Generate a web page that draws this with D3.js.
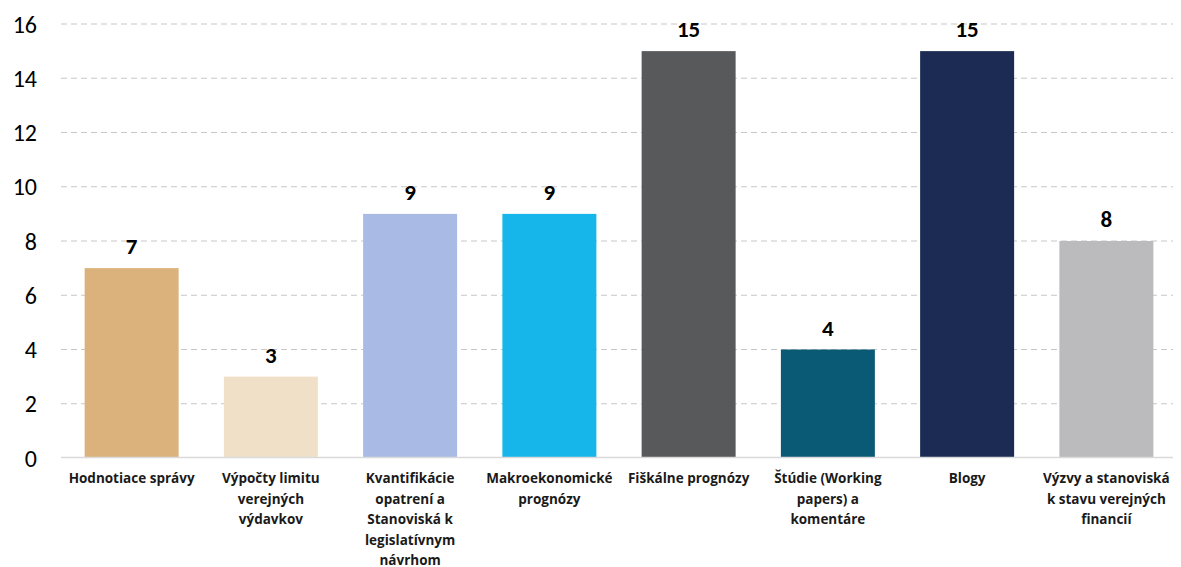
<!DOCTYPE html>
<html>
<head>
<meta charset="utf-8">
<script src="https://cdn.jsdelivr.net/npm/d3@7"></script>
<style>
body { margin: 0; background: #fff; }
text { font-family: Carlito, Lato, "Open Sans", sans-serif; }
</style>
</head>
<body>
<script>
var categories = [
    "Hodnotiace správy",
    "Výpočty limitu\nverejných\nvýdavkov",
    "Kvantifikácie\nopatrení a\nStanoviská k\nlegislatívnym\nnávrhom",
    "Makroekonomické\nprognózy",
    "Fiškálne prognózy",
    "Štúdie (Working\npapers) a\nkomentáre",
    "Blogy",
    "Výzvy a stanoviská\nk stavu verejných\nfinancií"
];
var values = [7, 3, 9, 9, 15, 4, 15, 8];
var colors = ["#dbb27b", "#f0e0c8", "#a9bbe5", "#16b5ea", "#58595b", "#0b5a75", "#1b2b54", "#bbbbbd"];
var yTicks = [0, 2, 4, 6, 8, 10, 12, 14, 16];

var width = 1181, height = 567;

var svg = d3.select("body").append("svg")
    .attr("width", width)
    .attr("height", height);

var x = d3.scaleBand()
    .domain(categories)
    .range([62, 1176])
    .paddingInner(0.325)
    .paddingOuter(0.1625);

var y = d3.scaleLinear()
    .domain([0, 16])
    .range([458, 24]);

// gridlines
svg.selectAll(".grid")
    .data(yTicks.filter(function(d){return d > 0}))
    .enter()
    .append("line")
    .attr("x1", 61)
    .attr("x2", 1173)
    .attr("y1", function(d){return y(d)})
    .attr("y2", function(d){return y(d)})
    .style("stroke", "#c8c8c8")
    .style("stroke-width", 1.2)
    .style("stroke-dasharray", "6,4");

// y labels
svg.selectAll(".ylab")
    .data(yTicks)
    .enter()
    .append("text")
    .attr("x", 37)
    .attr("y", function(d){return y(d)})
    .attr("dy", "0.36em")
    .attr("text-anchor", "end")
    .attr("font-size", "24px")
    .attr("fill", "#000")
    .text(function(d){return d});

// bars
svg.selectAll(".bar")
    .data(values)
    .enter()
    .append("rect")
    .attr("x", function(d, i){return x(categories[i])})
    .attr("width", x.bandwidth())
    .attr("y", function(d){return y(d)})
    .attr("height", function(d){return y(0) - y(d)})
    .style("fill", function(d, i){return colors[i]});

// baseline
svg.append("line")
    .attr("x1", 61)
    .attr("x2", 1173)
    .attr("y1", y(0) - 0.5)
    .attr("y2", y(0) - 0.5)
    .style("stroke", "#d9d9d9")
    .style("stroke-width", 1.5);

// value labels
svg.selectAll(".val")
    .data(values)
    .enter()
    .append("text")
    .attr("x", function(d, i){return x(categories[i]) + x.bandwidth()/2})
    .attr("y", function(d){return y(d) - 14})
    .attr("text-anchor", "middle")
    .attr("font-size", "23px")
    .attr("font-weight", "bold")
    .attr("fill", "#000")
    .text(function(d){return d});

// category labels
var cat = svg.selectAll(".cat")
    .data(categories)
    .enter()
    .append("text")
    .attr("text-anchor", "middle")
    .attr("font-size", "13.5px")
    .attr("font-weight", "bold")
    .style("font-family", "'Open Sans', sans-serif")
    .attr("fill", "#1a1a1a");

cat.each(function(d){
    var t = d3.select(this);
    var cx = x(d) + x.bandwidth()/2;
    d.split("\n").forEach(function(line, j){
        t.append("tspan")
            .attr("x", cx)
            .attr("y", 483 + j*20.5)
            .text(line);
    });
});
</script>
</body>
</html>
